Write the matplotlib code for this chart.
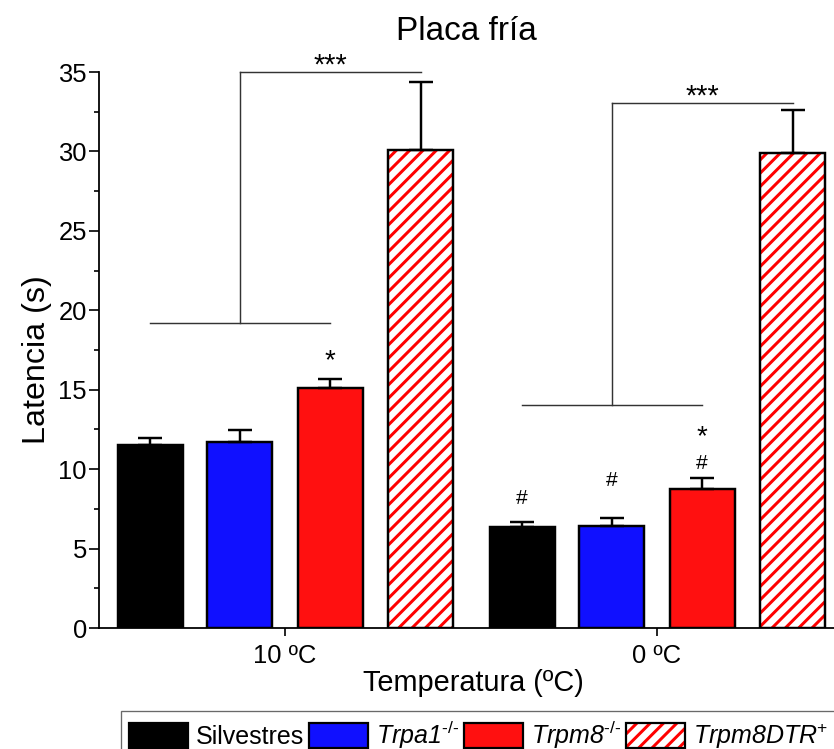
import numpy as np
import matplotlib.pyplot as plt
from matplotlib.patches import Patch

plt.rcParams['font.family'] = ['Liberation Sans', 'DejaVu Sans']
plt.rcParams['mathtext.fontset'] = 'custom'
plt.rcParams['mathtext.rm'] = 'Liberation Sans'
plt.rcParams['mathtext.it'] = 'Liberation Sans:italic'
plt.rcParams['hatch.linewidth'] = 2.7

# datos (latencia en s, media y error)
temps = ['10 ºC', '0 ºC']
silvestres = [11.5, 6.33]
silvestres_err = [0.47, 0.32]
trpa1 = [11.7, 6.45]
trpa1_err = [0.76, 0.45]
trpm8 = [15.1, 8.78]
trpm8_err = [0.57, 0.68]
trpm8dtr = [30.1, 29.9]
trpm8dtr_err = [4.3, 2.7]

# barras de significacion
lo_y = [19.2, 14.05]
hi_y = [35.0, 33.07]

dpi = 80
fig = plt.figure(figsize=(834 / dpi, 749 / dpi), dpi=dpi)
ax = fig.add_axes([99 / 834, 1 - 628 / 749, (834 - 99) / 834, (628 - 72) / 749])

x = np.array([0, 4.11])
offs = [-1.49, -0.5, 0.5, 1.5]
w = 0.72
err_kw = dict(ecolor='black', elinewidth=2.2, capsize=11, capthick=2.2)

series = [(silvestres, silvestres_err, 'black'),
          (trpa1, trpa1_err, '#1010ff'),
          (trpm8, trpm8_err, '#ff1010')]
for (vals, errs, c), o in zip(series, offs):
    ax.bar(x + o, vals, w, color=c, edgecolor='black', linewidth=2.2,
           yerr=[np.zeros(2), errs], error_kw=err_kw)
ax.bar(x + offs[3], trpm8dtr, w, color='white', edgecolor='red', hatch='//', linewidth=0)
ax.bar(x + offs[3], trpm8dtr, w, fill=False, edgecolor='black', linewidth=2.2,
       yerr=[np.zeros(2), trpm8dtr_err], error_kw=err_kw)

lc = '#333333'
for g in range(2):
    xb, xa, xr, xh = [x[g] + o for o in offs]
    ax.plot([xb, xr], [lo_y[g]] * 2, color=lc, lw=1.3, clip_on=False)
    ax.plot([xa, xa], [lo_y[g], hi_y[g]], color=lc, lw=1.3, clip_on=False)
    ax.plot([xa, xh], [hi_y[g]] * 2, color=lc, lw=1.3, clip_on=False)
    ax.text((xa + xh) / 2, hi_y[g] - 0.1, '***', ha='center', va='baseline', fontsize=26)

ax.text(x[0] + offs[2], 16.38, '*', ha='center', va='baseline', fontsize=25)
ax.text(x[1] + offs[2], 11.55, '*', ha='center', va='baseline', fontsize=25)
ax.text(x[1] + offs[0], 7.78, '#', ha='center', va='baseline', fontsize=19)
ax.text(x[1] + offs[1], 8.91, '#', ha='center', va='baseline', fontsize=19)
ax.text(x[1] + offs[2], 9.99, '#', ha='center', va='baseline', fontsize=19)

ax.set_xlim(-2.055, 6.066)
ax.set_ylim(0, 35)
ax.set_yticks(np.arange(0, 36, 5))
ax.set_yticks(np.arange(2.5, 35, 5), minor=True)
ax.set_xticks(x)
ax.set_xticklabels(temps)
ax.tick_params(axis='y', which='major', length=9, width=1.5, labelsize=23, pad=2)
ax.tick_params(axis='y', which='minor', length=4.5, width=1.5)
ax.tick_params(axis='x', length=7, width=1.5, labelsize=23, pad=7.5)
ax.spines[['top', 'right']].set_visible(False)
ax.spines['left'].set_linewidth(1.6)
ax.spines['bottom'].set_linewidth(1.6)

ax.set_ylabel('Latencia (s)', fontsize=29, labelpad=6)
ax.yaxis.label.set_y(0.483)
ax.set_xlabel('Temperatura (ºC)', fontsize=26, labelpad=1)
ax.xaxis.label.set_x(0.51)
ax.set_title('Placa fría', fontsize=30, pad=29)

handles = [Patch(facecolor='black', edgecolor='black', lw=2),
           Patch(facecolor='#1010ff', edgecolor='black', lw=2),
           Patch(facecolor='#ff1010', edgecolor='black', lw=2),
           (Patch(facecolor='white', edgecolor='red', hatch='//', lw=0),
            Patch(facecolor='none', edgecolor='black', lw=2))]
labels = ['Silvestres', r'Trpa1$^{\text{-/-}}$',
          r'Trpm8$^{\text{-/-}}$', r'Trpm8DTR$^{+}$']
leg = fig.legend(handles, labels, loc='upper left', bbox_to_anchor=(121 / 834, 1 - 711 / 749),
                 ncol=4, fontsize=22.5, frameon=True, fancybox=False, borderpad=0.3,
                 borderaxespad=0, handlelength=2.36, handleheight=1.16,
                 handletextpad=0.32, columnspacing=0.2)
for t in leg.get_texts()[1:]:
    t.set_fontstyle('italic')
leg.get_frame().set_edgecolor('#444444')
leg.get_frame().set_linewidth(1.2)

fig.savefig('out.png', dpi=dpi)
